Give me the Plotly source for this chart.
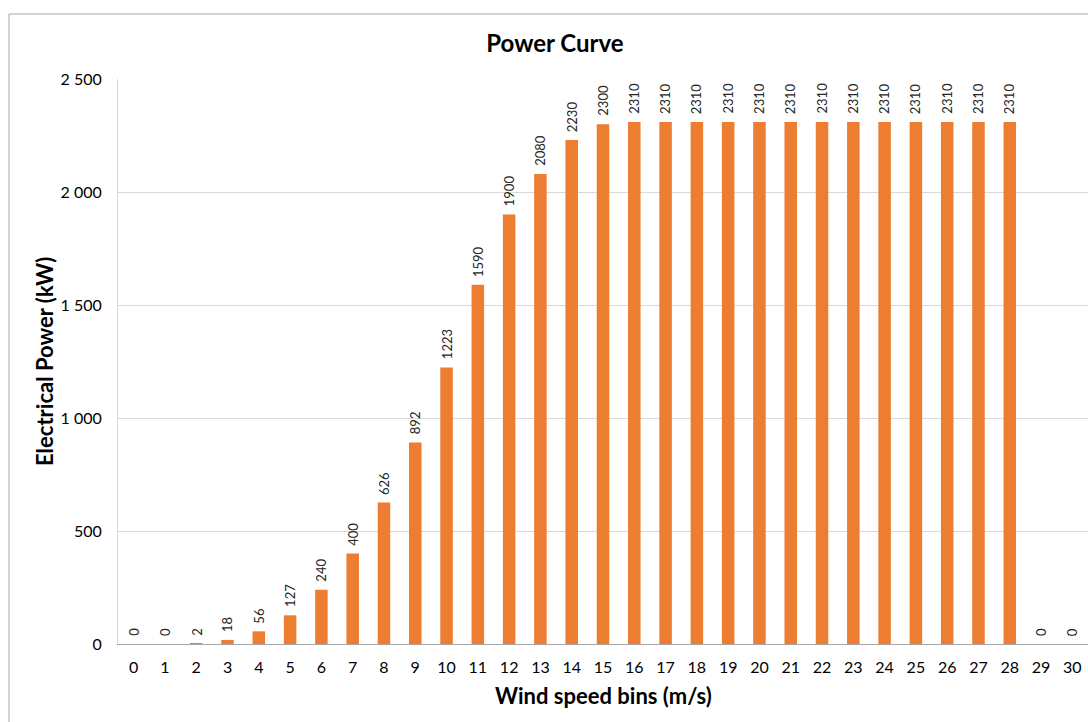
import plotly.graph_objects as go

wind_bins = list(range(0, 31))
power_kw = [0, 0, 2, 18, 56, 127, 240, 400, 626, 892, 1223, 1590, 1900, 2080, 2230, 2300,
            2310, 2310, 2310, 2310, 2310, 2310, 2310, 2310, 2310, 2310, 2310, 2310, 2310, 0, 0]
y_ticks = [0, 500, 1000, 1500, 2000, 2500]
y_tick_labels = ["0", "500", "1 000", "1 500", "2 000", "2 500"]

FONT = "Lato, 'Open Sans', sans-serif"
W, H = 1088, 722
L, R, T, B = 118, 0, 79, 78
pw, ph = W - L - R, H - T - B

def px(x):
    return (x - L) / pw

def py(y):
    return (H - B - y) / ph

cats = [str(v) for v in wind_bins]

fig = go.Figure()
fig.add_trace(go.Bar(
    x=cats,
    y=power_kw,
    marker=dict(color="#ED7D31", line=dict(width=0)),
    hoverinfo="x+y",
))

label_annots = [
    dict(x=c, y=v, xref="x", yref="y", text=str(v), showarrow=False,
         textangle=-90, xanchor="center", yanchor="bottom", yshift=6,
         font=dict(family=FONT, size=13, color="#262626"))
    for c, v in zip(cats, power_kw)
]

fig.update_layout(
    width=W, height=H,
    margin=dict(l=L, r=R, t=T, b=B),
    paper_bgcolor="white",
    plot_bgcolor="white",
    bargap=0.6,
    showlegend=False,
    font=dict(family=FONT, color="#404040"),
    title=dict(text="<b>Power Curve</b>", x=555 / W, xref="container", xanchor="center",
               y=1 - 44 / H, yref="container", yanchor="middle",
               font=dict(family=FONT, size=24, color="#000000")),
    xaxis=dict(
        type="category",
        showgrid=False,
        showline=True, linecolor="#A6A6A6", linewidth=1,
        ticks="", tickfont=dict(family=FONT, size=16, color="#000000"),
        ticklabelstandoff=9,
    ),
    yaxis=dict(
        range=[0, 2500],
        tickvals=y_ticks, ticktext=y_tick_labels,
        showgrid=True, gridcolor="#D9D9D9", gridwidth=1,
        showline=True, linecolor="#D9D9D9", linewidth=1,
        zeroline=False,
        ticks="", tickfont=dict(family=FONT, size=16, color="#000000"),
        ticklabelstandoff=12,
    ),
    annotations=label_annots + [
        dict(text="<b>Wind speed bins (m/s)</b>", x=px(603), y=py(695), xref="paper", yref="paper",
             showarrow=False, xanchor="center", yanchor="middle",
             font=dict(family=FONT, size=22, color="#000000")),
        dict(text="<b>Electrical Power (kW)</b>", x=px(44), y=py(362), xref="paper", yref="paper",
             showarrow=False, xanchor="center", yanchor="middle", textangle=-90,
             font=dict(family=FONT, size=22, color="#000000")),
    ],
    shapes=[
        dict(type="rect", xref="paper", yref="paper",
             x0=px(9), x1=px(1100), y0=py(740), y1=py(14),
             line=dict(color="#A6A6A6", width=1), fillcolor="rgba(0,0,0,0)", layer="below"),
    ],
)

fig.write_html("out.html")
